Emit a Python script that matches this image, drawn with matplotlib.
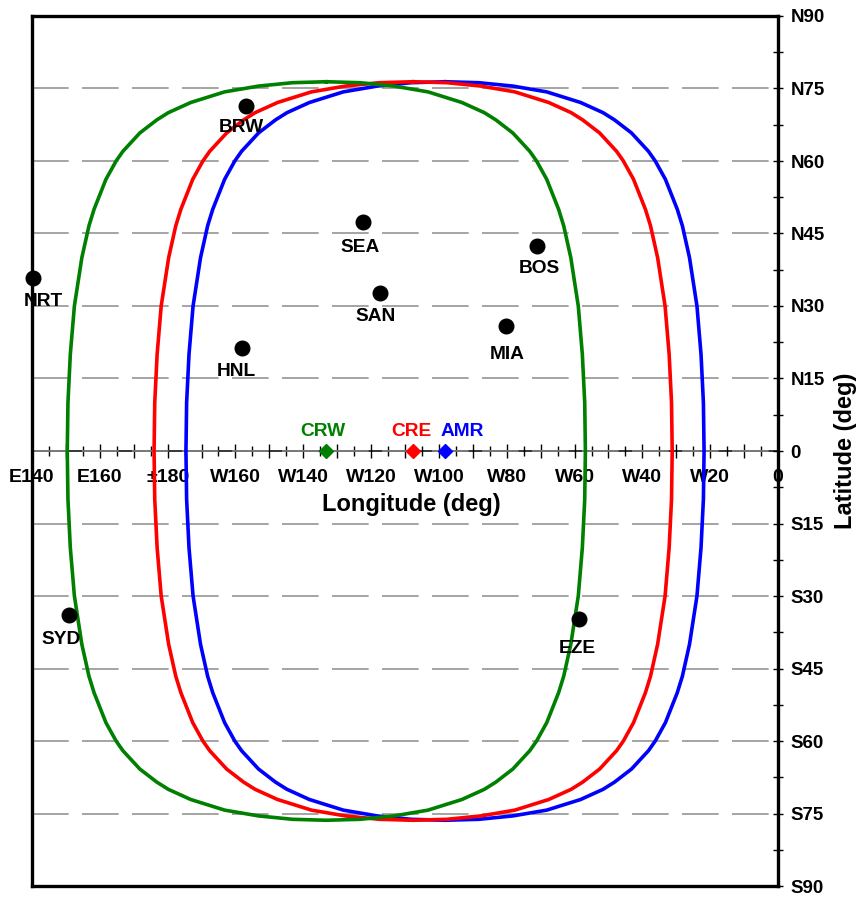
import matplotlib
matplotlib.use('Agg')
import matplotlib.pyplot as plt
from matplotlib.ticker import MultipleLocator, FuncFormatter

plt.rcParams['font.family'] = ['Liberation Sans', 'DejaVu Sans']
plt.rcParams['font.weight'] = 'bold'
plt.rcParams['lines.scale_dashes'] = False

# ---------------- data ----------------
lon_ticks = [140, 160, 180, 200, 220, 240, 260, 280, 300, 320, 340, 360]
lon_labels = ['E140', 'E160', '\u00b1180', 'W160', 'W140', 'W120', 'W100',
              'W80', 'W60', 'W40', 'W20', '0']
lat_ticks = [90, 75, 60, 45, 30, 15, 0, -15, -30, -45, -60, -75, -90]
lat_labels = ['N90', 'N75', 'N60', 'N45', 'N30', 'N15', '0',
              'S15', 'S30', 'S45', 'S60', 'S75', 'S90']

stations = ['BRW', 'SEA', 'SAN', 'HNL', 'BOS', 'MIA', 'NRT', 'SYD', 'EZE']
station_lon = [203.0, 237.5, 242.6, 202.0, 289.0, 279.7, 140.4, 151.0, 301.4]
station_lat = [71.3, 47.4, 32.7, 21.3, 42.4, 25.8, 35.8, -33.9, -34.8]

satellites = ['CRW', 'CRE', 'AMR']
sat_lon = [226.8, 252.4, 261.8]
sat_lat = [0.0, 0.0, 0.0]

# coverage footprint outline (offset in longitude from satellite, latitude)
footprint_dlon = [0, 10, 20, 30, 40, 46.6, 50, 55, 60, 62, 65, 68.5, 70, 72.1, 74.3, 75.5, 76.2, 76.4,
                  76.2, 75.5, 74.3, 72.1, 70, 68.5, 65, 62, 60, 55, 50, 46.6, 40, 30, 20, 10, 0,
                  -10, -20, -30, -40, -46.6, -50, -55, -60, -62, -65, -68.5, -70, -72.1, -74.3, -75.5, -76.2, -76.4,
                  -76.2, -75.5, -74.3, -72.1, -70, -68.5, -65, -62, -60, -55, -50, -46.6, -40, -30, -20, -10, 0]
footprint_lat = [76.4, 76.2, 75.5, 74.3, 72.1, 70, 68.5, 65.8, 62, 60, 56.2, 50, 46.6, 40, 30, 20, 10, 0,
                 -10, -20, -30, -40, -46.6, -50, -56.2, -60, -62, -65.8, -68.5, -70, -72.1, -74.3, -75.5, -76.2, -76.4,
                 -76.2, -75.5, -74.3, -72.1, -70, -68.5, -65.8, -62, -60, -56.2, -50, -46.6, -40, -30, -20, -10, 0,
                 10, 20, 30, 40, 46.6, 50, 56.2, 60, 62, 65.8, 68.5, 70, 72.1, 74.3, 75.5, 76.2, 76.4]

# ---------------- style ----------------
sat_colors = ['#008000', '#ff0000', '#0000ff']
station_offsets_px = [(-4, 21), (-3, 26), (-4, 24), (-6, 23), (2, 22), (1, 28), (10, 24), (-8, 25), (-2, 29)]
sat_offsets_px = [(-4, -20), (-2, -20), (17, -20)]
PX = 0.72  # points per pixel at 100 dpi

fig = plt.figure(figsize=(8.58, 8.97), dpi=100)
ax = fig.add_axes([32 / 858, (897 - 886) / 897, 746 / 858, 870 / 897])
ax.set_xlim(140, 360)
ax.set_ylim(-90, 90)

for sp in ax.spines.values():
    sp.set_linewidth(2.4)
    sp.set_color('black')
    sp.set_zorder(6)

ax.tick_params(axis='x', which='both', bottom=False, top=False,
               labelbottom=False, labeltop=False)
ax.yaxis.tick_right()
ax.set_yticks(lat_ticks)
ax.set_yticklabels(lat_labels)
ax.yaxis.set_minor_locator(MultipleLocator(7.5))
ax.tick_params(axis='y', which='both', direction='inout', length=7.2, width=1.0,
               labelsize=13.5, pad=5.3, left=False, right=True)
ax.yaxis.set_label_position('right')
ax.set_ylabel('Latitude (deg)', fontsize=17, fontweight='bold', labelpad=7)

ax.grid(axis='y', which='major', color='#8c8c8c', linewidth=1.1,
        linestyle=(0, (26.4, 9.6)))
ax.set_axisbelow(True)

# longitude axis along the equator
secax = ax.secondary_xaxis(0.5)
secax.set_alignment('bottom')
secax.spines['bottom'].set_linewidth(1.1)
lab_map = dict(zip(lon_ticks, lon_labels))
secax.xaxis.set_major_locator(MultipleLocator(10))
secax.xaxis.set_major_formatter(FuncFormatter(lambda v, p: lab_map.get(int(round(v)), '')))
secax.xaxis.set_minor_locator(MultipleLocator(5))
secax.tick_params(axis='x', which='major', direction='inout', length=9.4, width=1.0,
                  labelsize=14, pad=8.5)
secax.tick_params(axis='x', which='minor', direction='inout', length=6.5, width=1.0)
secax.set_xlabel('Longitude (deg)', fontsize=17, fontweight='bold', labelpad=5, x=0.509)

# footprints
order = [2, 1, 0]
for i in order:
    lons = [sat_lon[i] + d for d in footprint_dlon]
    ax.plot(lons, footprint_lat, color=sat_colors[i], linewidth=2.6,
            solid_joinstyle='round', zorder=3 + 0.1 * (2 - i))

# stations
ax.plot(station_lon, station_lat, 'o', color='black', markersize=10.5,
        clip_on=False, zorder=5)
for name, lo, la, (dx, dy) in zip(stations, station_lon, station_lat, station_offsets_px):
    ax.annotate(name, (lo, la), xytext=(dx * PX, -dy * PX), textcoords='offset points',
                ha='center', va='center', fontsize=13.8, fontweight='bold', color='black',
                zorder=7, annotation_clip=False)

# satellites
for name, lo, la, c, (dx, dy) in zip(satellites, sat_lon, sat_lat, sat_colors, sat_offsets_px):
    ax.plot([lo], [la], marker='D', color=c, markersize=7.5, linestyle='none', zorder=6)
    ax.annotate(name, (lo, la), xytext=(dx * PX, -dy * PX), textcoords='offset points',
                ha='center', va='center', fontsize=13.8, fontweight='bold', color=c, zorder=7)

fig.savefig('out.png', dpi=100)
